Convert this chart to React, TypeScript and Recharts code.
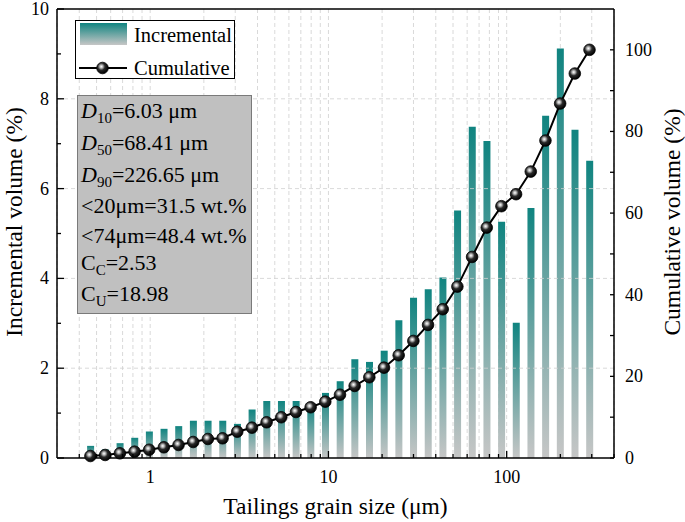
import { ComposedChart, Bar, Line, XAxis, YAxis, CartesianGrid, Legend, ReferenceLine } from "recharts";

const SERIF = '"Liberation Serif", "Times New Roman", serif';

// grain size classes (µm)
const grainSize = [
  0.462, 0.559, 0.676, 0.817, 0.987, 1.193, 1.442, 1.743, 2.107, 2.547, 3.079, 3.721,
  4.498, 5.437, 6.572, 7.944, 9.602, 11.61, 14.03, 16.96, 20.5, 24.78, 29.95, 36.21,
  43.77, 52.9, 63.95, 77.3, 93.43, 112.9, 136.5, 165.0, 199.5, 241.1, 291.5,
];
const incremental = [
  0.27, 0.19, 0.33, 0.45, 0.59, 0.65, 0.71, 0.83, 0.83, 0.83, 0.76, 1.08,
  1.27, 1.27, 1.27, 1.2, 1.45, 1.71, 2.2, 2.14, 2.39, 3.07, 3.57, 3.76,
  4.02, 5.51, 7.38, 7.06, 5.26, 3.01, 5.57, 7.62, 9.12, 7.31, 6.62,
];
const cumulative = [
  0.49, 0.74, 1.15, 1.55, 2.03, 2.62, 3.19, 3.92, 4.66, 4.83, 6.45, 7.43,
  8.75, 9.98, 11.27, 12.43, 13.8, 15.5, 17.65, 19.78, 22.13, 25.17, 28.68, 32.6,
  36.45, 41.99, 49.26, 56.45, 61.69, 64.63, 70.17, 77.77, 86.84, 94.19, 100,
];

const xTicks = [
  0.4, 0.5, 0.6, 0.7, 0.8, 0.9, 1, 2, 3, 4, 5, 6, 7, 8, 9,
  10, 20, 30, 40, 50, 60, 70, 80, 90, 100, 200, 300, 400,
];
const xLabels = [1, 10, 100];
const leftTicks = [0, 1, 2, 3, 4, 5, 6, 7, 8, 9, 10];
const leftLabels = [0, 2, 4, 6, 8, 10];
const rightTicks = [0, 10, 20, 30, 40, 50, 60, 70, 80, 90, 100];
const rightLabels = [0, 20, 40, 60, 80, 100];
const gridLevels = [2, 4, 6, 8];

const stats = [
  { lead: "D", italic: true, sub: "10", rest: "=6.03 μm" },
  { lead: "D", italic: true, sub: "50", rest: "=68.41 μm" },
  { lead: "D", italic: true, sub: "90", rest: "=226.65 μm" },
  { lead: "<20μm=31.5 wt.%", italic: false, sub: "", rest: "" },
  { lead: "<74μm=48.4 wt.%", italic: false, sub: "", rest: "" },
  { lead: "C", italic: false, sub: "C", rest: "=2.53" },
  { lead: "C", italic: false, sub: "U", rest: "=18.98" },
];
const statBaselines = [118, 150, 182, 213, 243, 270, 301];

const data = grainSize.map((size, i) => ({ size, inc: incremental[i], cum: cumulative[i] }));

function XTick({ x, y, payload }: any) {
  const major = xLabels.includes(payload.value);
  return (
    <g>
      <line x1={x} x2={x} y1={y} y2={y - (major ? 7 : 4)} stroke="#000" strokeWidth={1.3} />
      {major && (
        <text x={x} y={y + 25} textAnchor="middle" fontSize={18} fontFamily={SERIF} fill="#000">
          {payload.value}
        </text>
      )}
    </g>
  );
}

function LeftTick({ x, y, payload }: any) {
  const major = leftLabels.includes(payload.value);
  return (
    <g>
      <line x1={x} x2={x + (major ? 7 : 4)} y1={y} y2={y} stroke="#000" strokeWidth={1.3} />
      {major && (
        <text x={x - 8} y={y + 6} textAnchor="end" fontSize={18} fontFamily={SERIF} fill="#000">
          {payload.value}
        </text>
      )}
    </g>
  );
}

function RightTick({ x, y, payload }: any) {
  const major = rightLabels.includes(payload.value);
  return (
    <g>
      <line x1={x} x2={x - 4} y1={y} y2={y} stroke="#000" strokeWidth={1.3} />
      {major && (
        <text x={x + 11} y={y + 6} textAnchor="start" fontSize={18} fontFamily={SERIF} fill="#000">
          {payload.value}
        </text>
      )}
    </g>
  );
}

function Ball({ cx, cy }: any) {
  if (cx == null || cy == null) return null;
  return <circle cx={cx} cy={cy} r={5.8} fill="url(#ball)" stroke="#000" strokeWidth={0.8} />;
}

function LegendBox() {
  return (
    <svg width={160} height={59} style={{ display: "block" }}>
      <defs>
        <linearGradient id="legBar" x1="0" y1="0" x2="0" y2="1">
          <stop offset="0%" stopColor="#108480" />
          <stop offset="100%" stopColor="#c6c6c6" />
        </linearGradient>
        <radialGradient id="legBall" cx="0.4" cy="0.38" r="0.62">
          <stop offset="0%" stopColor="#ffffff" />
          <stop offset="22%" stopColor="#b5b5b5" />
          <stop offset="50%" stopColor="#2a2a2a" />
          <stop offset="100%" stopColor="#000" />
        </radialGradient>
      </defs>
      <rect x={0.5} y={0.5} width={159} height={58} fill="#fff" stroke="#000" strokeWidth={1} />
      <rect x={5} y={3} width={47} height={22} fill="url(#legBar)" />
      <text x={59} y={22} fontSize={20.5} fontFamily={SERIF} fill="#000">Incremental</text>
      <line x1={4} x2={52} y1={48} y2={48} stroke="#000" strokeWidth={2} />
      <circle cx={27.5} cy={48} r={5.8} fill="url(#legBall)" stroke="#000" strokeWidth={0.8} />
      <text x={59} y={55} fontSize={20.5} fontFamily={SERIF} fill="#000">Cumulative</text>
    </svg>
  );
}

export default function App() {
  return (
    <div style={{ position: "absolute", left: 0, top: 0, width: 685, height: 522, background: "#fff" }}>
      <ComposedChart width={685} height={522} data={data} margin={{ top: 9, right: 11, bottom: 24, left: 7 }}>
        <defs>
          <linearGradient id="barGrad" x1="0" y1="0" x2="0" y2="1">
            <stop offset="0%" stopColor="#108480" />
            <stop offset="100%" stopColor="#c6c6c6" />
          </linearGradient>
          <radialGradient id="ball" cx="0.4" cy="0.38" r="0.62">
            <stop offset="0%" stopColor="#ffffff" />
            <stop offset="22%" stopColor="#b5b5b5" />
            <stop offset="50%" stopColor="#2a2a2a" />
            <stop offset="100%" stopColor="#000" />
          </radialGradient>
        </defs>
        <CartesianGrid horizontal={false} stroke="#cfcfcf" strokeWidth={0.8} strokeDasharray="4 3" />
        {gridLevels.map((v) => (
          <ReferenceLine key={v} yAxisId="left" y={v} stroke="#cfcfcf" strokeWidth={0.8} strokeDasharray="4 3" />
        ))}
        <XAxis
          dataKey="size"
          type="number"
          scale="log"
          domain={[0.3, 400]}
          allowDataOverflow
          ticks={xTicks}
          interval={0}
          height={40}
          tickSize={0}
          tickMargin={0}
          tickLine={false}
          tick={<XTick />}
          axisLine={{ stroke: "#000", strokeWidth: 1.5 }}
        />
        <YAxis
          yAxisId="left"
          domain={[0, 10]}
          ticks={leftTicks}
          interval={0}
          width={50}
          tickSize={0}
          tickMargin={0}
          tickLine={false}
          tick={<LeftTick />}
          axisLine={{ stroke: "#000", strokeWidth: 1.5 }}
        />
        <YAxis
          yAxisId="right"
          orientation="right"
          domain={[0, 110]}
          ticks={rightTicks}
          interval={0}
          width={60}
          tickSize={0}
          tickMargin={0}
          tickLine={false}
          tick={<RightTick />}
          axisLine={{ stroke: "#000", strokeWidth: 1.5 }}
        />
        <ReferenceLine yAxisId="left" y={10} stroke="#000" strokeWidth={1.5} />
        <Bar yAxisId="left" dataKey="inc" name="Incremental" fill="url(#barGrad)" barSize={7} isAnimationActive={false} />
        <Line
          yAxisId="right"
          dataKey="cum"
          name="Cumulative"
          type="linear"
          stroke="#000"
          strokeWidth={2}
          dot={<Ball />}
          activeDot={false}
          isAnimationActive={false}
        />
        <Legend
          layout="vertical"
          align="center"
          verticalAlign="middle"
          content={() => <LegendBox />}
          wrapperStyle={{ left: 75, top: 20, width: 160, height: 59 }}
        />
      </ComposedChart>
      <svg
        width={685}
        height={522}
        style={{ position: "absolute", left: 0, top: 0, pointerEvents: "none" }}
        fontFamily={SERIF}
      >
        <rect x={77.5} y={95.5} width={174} height={218} fill="#c0c0c0" stroke="#7a7a7a" strokeWidth={1} />
        {stats.map((s, i) => (
          <text key={i} x={81} y={statBaselines[i]} fontSize={22} fill="#000">
            <tspan fontStyle={s.italic ? "italic" : "normal"}>{s.lead}</tspan>
            {s.sub && (
              <tspan fontSize={15} dy={5}>
                {s.sub}
              </tspan>
            )}
            {s.rest && <tspan dy={s.sub ? -5 : 0}>{s.rest}</tspan>}
          </text>
        ))}
        <text x={335.5} y={514} textAnchor="middle" fontSize={23.5} fill="#000">
          Tailings grain size (μm)
        </text>
        <text transform="translate(21.5,222) rotate(-90)" textAnchor="middle" fontSize={23.5} fill="#000">
          Incremental volume (%)
        </text>
        <text transform="translate(680,222) rotate(-90)" textAnchor="middle" fontSize={23.5} fill="#000">
          Cumulative volume (%)
        </text>
      </svg>
    </div>
  );
}
